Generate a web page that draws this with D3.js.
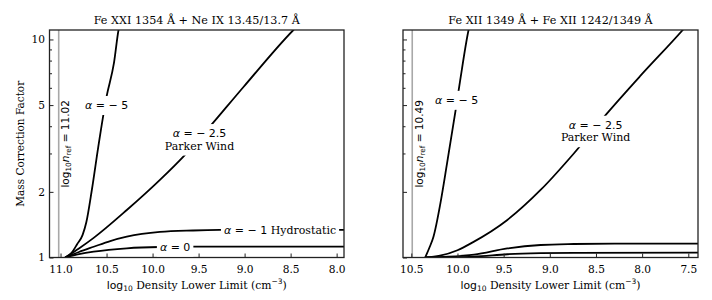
<!DOCTYPE html>
<html><head><meta charset="utf-8">
<script src="https://cdn.jsdelivr.net/npm/d3@7"></script>
<style>body{margin:0;background:#fff} svg{display:block}</style>
</head><body>
<svg id="c" width="712" height="300"></svg>
<script>
// ---------- data ----------
const panelTitles = ["Fe XXI 1354 Å + Ne IX 13.45/13.7 Å", "Fe XII 1349 Å + Fe XII 1242/1349 Å"];
const nRef = [11.02, 10.49];
const xDomains = [[11.12, 7.92], [10.59, 7.395]];
const xTicks = [[11.0, 10.5, 10.0, 9.5, 9.0, 8.5, 8.0], [10.5, 10.0, 9.5, 9.0, 8.5, 8.0, 7.5]];
const yDomain = [1, 11.05];
const yMajor = [1, 2, 5, 10];
const yMinor = [3, 4, 6, 7, 8, 9];

// [log10 n_lower, mass correction factor]
const leftA5  = [[10.95,1.0],[10.88,1.05],[10.82,1.15],[10.76,1.27],[10.72,1.45],[10.66,2.04],[10.59,3.22],[10.50,5.47],[10.42,7.78],[10.37,11.05],[10.34,12.5]];
const leftA25 = [[10.95,1.0],[10.80,1.10],[10.64,1.23],[10.28,1.651],[9.92,2.27],[9.65,2.95],[9.41,3.84],[9.01,6.07],[8.47,11.05],[8.3,13]];
const leftA1  = [[10.95,1.0],[10.80,1.06],[10.64,1.12],[10.46,1.19],[10.28,1.246],[9.92,1.31],[9.56,1.33],[9.27,1.338],[8.9,1.34],[7.9,1.34]];
const leftA0  = [[10.95,1.0],[10.80,1.035],[10.64,1.063],[10.28,1.102],[9.92,1.117],[9.5,1.121],[7.9,1.121]];
const rightA5  = [[10.35,1.0],[10.30,1.12],[10.26,1.246],[10.185,1.772],[10.113,2.70],[10.02,4.74],[9.97,6.52],[9.88,11.05],[9.85,12.5]];
const rightA25 = [[10.35,1.0],[10.19,1.02],[10.0,1.08],[9.84,1.17],[9.46,1.486],[9.10,2.04],[8.74,3.0],[8.38,4.58],[8.02,6.8],[7.56,11.05],[7.45,12.5]];
const rightA1  = [[10.35,1.0],[10.1,1.008],[9.82,1.03],[9.46,1.10],[9.10,1.141],[8.74,1.153],[8.3,1.158],[7.39,1.158]];
const rightA0  = [[10.35,1.0],[9.82,1.01],[9.46,1.035],[9.10,1.047],[8.74,1.051],[7.39,1.052]];

// labels: [x, y, lines]
const leftLabels  = [[10.50, 5.0, ["a5"]], [9.49, 3.48, ["a25","PW"]], [8.615, 1.34, ["a1H"]], [9.755, 1.121, ["a0"]]];
const rightLabels = [[10.01, 5.28, ["a5"]], [8.504, 3.8, ["a25","PW"]]];
const refLabelY = 3.32;

// ---------- drawing ----------
const svg = d3.select("#c");
const SERIF = "DejaVu Serif", SANS = "DejaVu Sans";
const panels = [
  {x0: 49.5, x1: 344, curves: [leftA5, leftA25, leftA1, leftA0], labels: leftLabels, showY: true},
  {x0: 403, x1: 698, curves: [rightA5, rightA25, rightA1, rightA0], labels: rightLabels, showY: false}
];
const yTop = 30, yBot = 257.5;

function addMath(t, kind) {
  const alpha = (val) => {
    t.append("tspan").attr("font-family", SANS).attr("font-style", "italic").text("α");
    t.append("tspan").attr("font-family", SANS).text(val);
  };
  if (kind === "a5") alpha(" = − 5");
  else if (kind === "a25") alpha(" = − 2.5");
  else if (kind === "a0") alpha(" = 0");
  else if (kind === "a1H") { alpha(" = − 1"); t.append("tspan").attr("font-family", SERIF).text(" Hydrostatic"); }
  else if (kind === "PW") t.append("tspan").attr("font-family", SERIF).text("Parker Wind");
}

panels.forEach((p, i) => {
  const x = d3.scaleLinear().domain(xDomains[i]).range([p.x0, p.x1]);
  const y = d3.scaleLog().domain(yDomain).range([yBot, yTop]);
  const g = svg.append("g");

  g.append("clipPath").attr("id", "clip" + i).append("rect")
    .attr("x", p.x0).attr("y", yTop).attr("width", p.x1 - p.x0).attr("height", yBot - yTop);

  // reference line
  g.append("line").attr("x1", x(nRef[i])).attr("x2", x(nRef[i]))
    .attr("y1", yTop).attr("y2", yBot).attr("stroke", "#a8a8a8").attr("stroke-width", 1.6);

  // curves
  const line = d3.line().x(d => x(d[0])).y(d => y(d[1])).curve(d3.curveMonotoneX);
  g.append("g").attr("clip-path", `url(#clip${i})`).selectAll("path").data(p.curves).join("path")
    .attr("d", line).attr("fill", "none").attr("stroke", "#000").attr("stroke-width", 1.8);

  // axes
  const xa = g.append("g").attr("transform", `translate(0,${yBot})`)
    .call(d3.axisBottom(x).tickValues(xTicks[i]).tickFormat(d3.format(".1f")).tickSize(-4).tickPadding(7.5));
  const ya = g.append("g").attr("transform", `translate(${p.x0},0)`)
    .call(d3.axisLeft(y).tickValues(yMajor).tickFormat(p.showY ? (d => d) : (() => "")).tickSize(-4).tickPadding(4.5));
  const ym = g.append("g").attr("transform", `translate(${p.x0},0)`)
    .call(d3.axisLeft(y).tickValues(yMinor).tickFormat(() => "").tickSize(-2.5));
  [xa, ya, ym].forEach(a => {
    a.select(".domain").remove();
    a.selectAll("line").attr("stroke", "#222").attr("stroke-width", 1);
    a.selectAll("text").attr("font-family", SERIF).attr("font-size", 10.6).attr("fill", "#000");
  });

  // frame
  g.append("rect").attr("x", p.x0).attr("y", yTop).attr("width", p.x1 - p.x0).attr("height", yBot - yTop)
    .attr("fill", "none").attr("stroke", "#222").attr("stroke-width", 1.3);

  // curve labels with white box
  p.labels.forEach(([lx, ly, lines]) => {
    const cx = x(lx), cy = y(ly);
    const lg = g.append("g");
    const lh = 12.5;
    const texts = lines.map((k, j) => {
      const t = lg.append("text").attr("x", cx).attr("y", cy + (j - (lines.length - 1) / 2) * lh + 3.9)
        .attr("text-anchor", "middle").attr("font-size", 11).attr("fill", "#000");
      addMath(t, k);
      return t;
    });
    let bx0 = 1e9, by0 = 1e9, bx1 = -1e9, by1 = -1e9;
    texts.forEach(t => { const b = t.node().getBBox(); bx0 = Math.min(bx0, b.x); by0 = Math.min(by0, b.y); bx1 = Math.max(bx1, b.x + b.width); by1 = Math.max(by1, b.y + b.height); });
    lg.insert("rect", "text").attr("x", bx0 - 3).attr("y", by0 - 3).attr("width", bx1 - bx0 + 6).attr("height", by1 - by0 + 6).attr("fill", "#fff");
  });

  // n_ref label (rotated)
  const rx = x(nRef[i]) + 10.5, ry = y(refLabelY);
  const rt = g.append("text").attr("transform", `translate(${rx},${ry}) rotate(-90)`)
    .attr("text-anchor", "middle").attr("font-family", SANS).attr("font-size", 10.5).attr("fill", "#000");
  rt.append("tspan").text("log");
  rt.append("tspan").attr("font-size", 7.3).attr("dy", 2).text("10");
  rt.append("tspan").attr("font-style", "italic").attr("dy", -2).text("n");
  rt.append("tspan").attr("font-size", 7.3).attr("dy", 2).text("ref");
  rt.append("tspan").attr("dy", -2).text(" = " + nRef[i].toFixed(2));

  // title
  g.append("text").attr("x", (p.x0 + p.x1) / 2).attr("y", 24).attr("text-anchor", "middle")
    .attr("font-family", SERIF).attr("font-size", 11.2).attr("fill", "#000").text(panelTitles[i]);

  // x label
  const xl = g.append("text").attr("x", (p.x0 + p.x1) / 2).attr("y", 288.5).attr("text-anchor", "middle")
    .attr("font-family", SERIF).attr("font-size", 10.8).attr("fill", "#000");
  xl.append("tspan").attr("font-family", SANS).text("log");
  xl.append("tspan").attr("font-family", SANS).attr("font-size", 7.5).attr("dy", 2.2).text("10");
  xl.append("tspan").attr("dy", -2.2).text(" Density Lower Limit (cm");
  xl.append("tspan").attr("font-family", SANS).attr("font-size", 7.5).attr("dy", -4.2).text("−3");
  xl.append("tspan").attr("dy", 4.2).text(")");
});

// y label
svg.append("text").attr("transform", `translate(24,${(yTop + yBot) / 2}) rotate(-90)`)
  .attr("text-anchor", "middle").attr("font-family", SERIF).attr("font-size", 10.5).attr("fill", "#000")
  .text("Mass Correction Factor");
</script>
</body></html>
